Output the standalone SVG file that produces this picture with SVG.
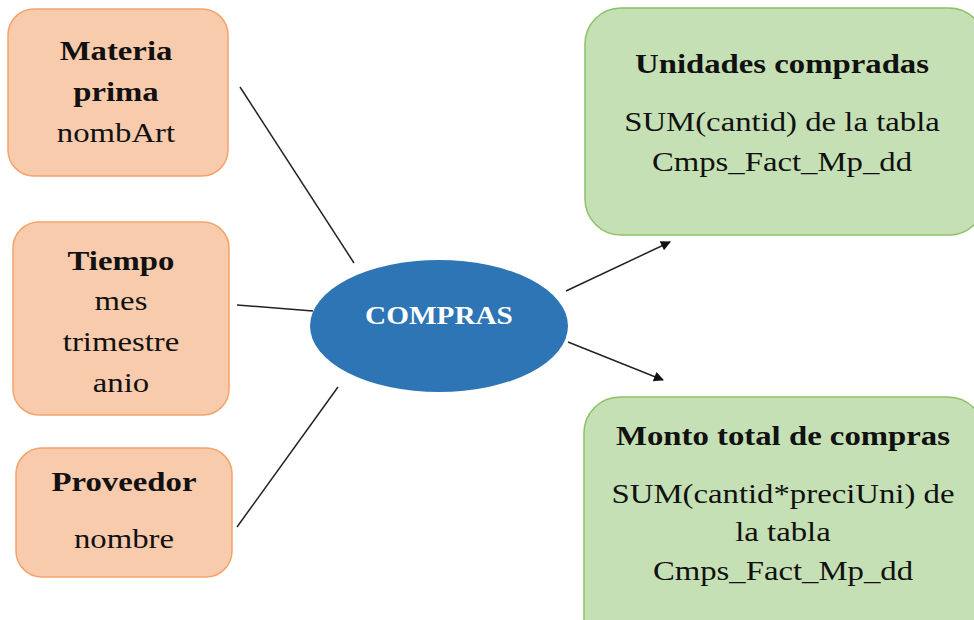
<svg xmlns="http://www.w3.org/2000/svg" width="974" height="620" viewBox="0 0 974 620">
<defs>
<style>
.o{fill:#F8CBAD;stroke:#F4A46A;stroke-width:1.5}
.g{fill:#C5E0B4;stroke:#8CC168;stroke-width:1.5}
text{font-family:'Liberation Serif','DejaVu Serif',serif;font-size:28px;fill:#111;text-anchor:middle}
.b{font-weight:bold}
.c{stroke:#222;stroke-width:1.5;fill:none}
</style>
<marker id="ah2" viewBox="0 0 10 10" refX="9" refY="5" markerWidth="12" markerHeight="10" orient="auto" markerUnits="userSpaceOnUse">
<path d="M0,0 L10,5 L0,10 z" fill="#111"/>
</marker>
</defs>
<rect width="974" height="620" fill="#fff"/>
<g id="connectors">
<line class="c" x1="240" y1="87" x2="354" y2="263"/>
<line class="c" x1="237" y1="305" x2="313" y2="311"/>
<line class="c" x1="237" y1="527" x2="338" y2="387"/>
<line class="c" x1="566" y1="291" x2="670" y2="242" marker-end="url(#ah2)"/>
<line class="c" x1="568" y1="342" x2="663" y2="380" marker-end="url(#ah2)"/>
</g>
<g id="materia">
<rect class="o" x="8" y="9" width="220" height="167" rx="26"/>
<g transform="translate(116,0) scale(1.17,1)">
<text class="b" x="0" y="60">Materia</text>
<text class="b" x="0" y="101">prima</text>
<text x="0" y="142">nombArt</text>
</g>
</g>
<g id="tiempo">
<rect class="o" x="13" y="222" width="216" height="193" rx="26"/>
<g transform="translate(121,0) scale(1.17,1)">
<text class="b" x="0" y="270">Tiempo</text>
<text x="0" y="310">mes</text>
<text x="0" y="351">trimestre</text>
<text x="0" y="392">anio</text>
</g>
</g>
<g id="proveedor">
<rect class="o" x="16" y="448" width="216" height="129" rx="26"/>
<g transform="translate(124,0) scale(1.17,1)">
<text class="b" x="0" y="491">Proveedor</text>
<text x="0" y="548">nombre</text>
</g>
</g>
<g id="compras">
<ellipse cx="439" cy="326" rx="129" ry="66" fill="#2E75B6"/>
<g transform="translate(439,0) scale(1.17,1)">
<text class="b" x="0" y="324" style="fill:#fff;font-size:25px">COMPRAS</text>
</g>
</g>
<g id="unidades">
<rect class="g" x="585" y="8" width="400" height="227" rx="36"/>
<g transform="translate(782,0) scale(1.17,1)">
<text class="b" x="0" y="73">Unidades compradas</text>
<text x="0" y="131">SUM(cantid) de la tabla</text>
<text x="0" y="171">Cmps_Fact_Mp_dd</text>
</g>
</g>
<g id="monto">
<rect class="g" x="584" y="397" width="400" height="260" rx="36"/>
<g transform="translate(783,0) scale(1.17,1)">
<text class="b" x="0" y="445">Monto total de compras</text>
<text x="0" y="503">SUM(cantid*preciUni) de</text>
<text x="0" y="541">la tabla</text>
<text x="0" y="580">Cmps_Fact_Mp_dd</text>
</g>
</g>
</svg>
